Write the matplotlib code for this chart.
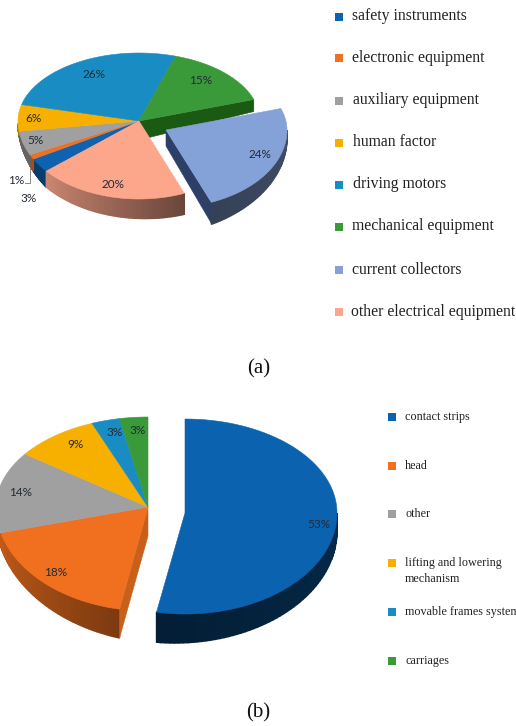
import numpy as np
import matplotlib
matplotlib.use("Agg")
import matplotlib.pyplot as plt
from matplotlib.colors import to_rgb

labels_a = ["safety instruments", "electronic equipment", "auxiliary equipment", "human factor",
            "driving motors", "mechanical equipment", "current collectors", "other electrical equipment"]
values_a = [3, 1, 5, 6, 26, 15, 24, 20]
colors_a = ["#0f62b0", "#ee7022", "#a0a0a0", "#f7b000", "#1a8cc4", "#3a9a3a", "#85a2d8", "#fca78c"]

labels_b = ["contact strips", "head", "other", "lifting and lowering\nmechanism",
            "movable frames system", "carriages"]
values_b = [53, 18, 14, 9, 3, 3]
colors_b = ["#0b63b0", "#f0701f", "#a0a0a0", "#f7b000", "#1a8cc4", "#3a9a3a"]


def point(c, th, rx, ry_top, ry_bot):
    # th is degrees clockwise from the top, back half is flatter than the front
    t = np.radians(th)
    co = np.cos(t)
    ry = np.where(co > 0, ry_top, ry_bot)
    return c[0] + rx * np.sin(t), c[1] - ry * co


def scale(col, f):
    return tuple(min(1, x * f) for x in to_rgb(col))


def top(ax, c, a0, a1, col, geo, z=3):
    th = np.linspace(a0, a1, 80)
    x, y = point(c, th, *geo)
    ax.fill(np.r_[c[0], x], np.r_[c[1], y], color=col, lw=0.4, zorder=z)


def side(ax, c, a0, a1, col, geo, depth, f0, f1, z=2):
    # shaded outer wall, depth = (angles, px) so it can taper towards the sides
    a0, a1 = max(a0, 90), min(a1, 268)
    if a1 <= a0:
        return
    th = np.linspace(a0, a1, 60)
    x, y = point(c, th, *geo)
    d = np.interp(th, depth[0], depth[1])
    fs = np.linspace(f0, f1, len(th) - 1)
    for i in range(len(th) - 1):
        col_i = scale(col, fs[i])
        ax.fill([x[i], x[i + 1], x[i + 1], x[i]],
                [y[i], y[i + 1], y[i + 1] + d[i + 1], y[i] + d[i]],
                facecolor=col_i, edgecolor=col_i, lw=1.0, zorder=z)


def wall(ax, c, th, col, geo, d_c, d_e, z=1):
    x, y = point(c, th, *geo)
    ax.fill([c[0], x, x, c[0]], [c[1], y, y + d_e, c[1] + d_c], color=col, lw=0.4, zorder=z)


fig = plt.figure(figsize=(5.16, 7.26), dpi=100)
ax = fig.add_axes([0, 0, 1, 1])
ax.set_xlim(0, 516)
ax.set_ylim(726, 0)
ax.axis("off")

# (a)
c_a = (139, 121)
geo_a = (121, 68, 78)
edges_a = 230 + np.r_[0, np.cumsum(values_a)] * 3.6
shade_a = [(0.62, 0.62), (0.7, 0.7), (0.62, 0.62), (0.7, 0.7), (1, 1), (1, 1), (0.42, 0.48), (0.42, 0.8)]
depth_a = ([158, 230, 265], [21, 16, 3])

wall(ax, c_a, edges_a[6] % 360, "#1b5a12", geo_a, 19, 12)
for i in range(8):
    a0, a1 = edges_a[i], edges_a[i + 1]
    if i == 6:
        continue
    if i == 7:
        a0, a1 = a0 - 360, a1 - 360
    if i not in (4, 5):
        f0, f1 = shade_a[i]
        side(ax, c_a, a0, a1, colors_a[i], geo_a, depth_a, f0, f1)
    top(ax, c_a, a0, a1, colors_a[i], geo_a)

c_ex = (166, 130)
a0, a1 = edges_a[6] - 360, edges_a[7] - 360
wall(ax, c_ex, a1, "#2d3f66", geo_a, 16, 21, z=4)
side(ax, c_ex, a0, a1, colors_a[6], geo_a, ([90, 158], [8, 22]), 0.48, 0.4, z=4)
top(ax, c_ex, a0, a1, colors_a[6], geo_a, z=5)

# (b)
c_b = (148, 507)
geo_b = (152, 90, 104)
edges_b = np.r_[0, np.cumsum(values_b)] * 3.6
c_bx = (185, 513)
geo_bx = (152, 94, 101)

wall(ax, c_b, edges_b[1], "#c8601a", geo_b, 29, 29, z=3)
side(ax, c_b, edges_b[1], edges_b[2], colors_b[1], geo_b, ([190, 255], [29, 14]), 0.52, 0.8)
side(ax, c_bx, edges_b[0], edges_b[1], colors_b[0], geo_bx, ([90, 190], [18, 30]), 0.42, 0.3)
top(ax, c_bx, edges_b[0], edges_b[1], colors_b[0], geo_bx, z=5)
for i in range(1, 6):
    top(ax, c_b, edges_b[i], edges_b[i + 1], colors_b[i], geo_b, z=4)

# percent labels
pct_color = "#222a33"
pos_a = [(29, 198), (16, 180), (35, 140), (33, 119), (94, 74), (201, 80), (260, 155), (113, 185)]
for v, (x, y) in zip(values_a, pos_a):
    ax.text(x, y, f"{v}%", ha="center", va="center", fontsize=8.5, family="Lato", color=pct_color, zorder=8)
ax.plot([25, 30, 30], [183, 183, 168], color="#777777", lw=0.6, zorder=8)

pos_b = [(319, 524), (56, 573), (21, 493), (75, 445), (115, 432), (138, 430)]
for v, (x, y) in zip(values_b, pos_b):
    ax.text(x, y, f"{v}%", ha="center", va="center", fontsize=8.5, family="Lato", color=pct_color, zorder=8)

# legends
leg_y_a = [17, 58, 101, 143, 185, 227, 270, 312]
leg_x_a = [352, 352, 353, 353, 353, 352, 352, 351]
for lab, col, x, y in zip(labels_a, colors_a, leg_x_a, leg_y_a):
    ax.scatter([339], [y], marker="s", s=30, color=col, lw=0)
    ax.text(x, y - 0.5, lab, ha="left", va="center", fontsize=11.3, family="Liberation Serif", color="#222222")

leg_y_b = [417, 466, 514, 563, 612, 661]
for lab, col, y in zip(labels_b, colors_b, leg_y_b):
    ax.scatter([392], [y], marker="s", s=30, color=col, lw=0)
    two_lines = "\n" in lab
    ax.text(405, y - 6 if two_lines else y, lab, ha="left", va="top" if two_lines else "center",
            fontsize=8.7, family="Liberation Serif", color="#222222", linespacing=1.45)

ax.text(259, 369, "(a)", ha="center", va="center", fontsize=15, family="Liberation Serif", color="#111111")
ax.text(258, 713, "(b)", ha="center", va="center", fontsize=15, family="Liberation Serif", color="#111111")

fig.savefig("out.png", dpi=100)
